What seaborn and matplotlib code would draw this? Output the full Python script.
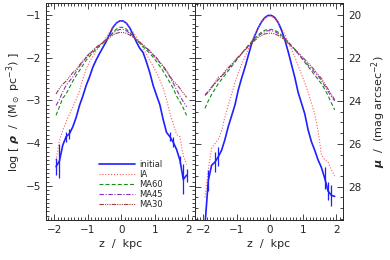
import numpy as np
import pandas as pd
import seaborn as sns
import matplotlib
matplotlib.use('Agg')
import matplotlib.pyplot as plt
from matplotlib.ticker import MultipleLocator

# z grid of the profiles (kpc)
z = [-1.95, -1.85, -1.75, -1.65, -1.55, -1.45, -1.35, -1.25, -1.15, -1.05,
     -0.95, -0.85, -0.75, -0.65, -0.55, -0.45, -0.35, -0.25, -0.15, -0.05,
     0.05, 0.15, 0.25, 0.35, 0.45, 0.55, 0.65, 0.75, 0.85, 0.95,
     1.05, 1.15, 1.25, 1.35, 1.45, 1.55, 1.65, 1.75, 1.85, 1.95]

labels = ['initial', 'IA', 'MA60', 'MA45', 'MA30']

# left panel: log rho
rho_initial = [-4.55, -4.42, -4.05, -3.85, -3.78, -3.62, -3.40, -3.12, -2.90, -2.65,
               -2.45, -2.22, -2.05, -1.90, -1.76, -1.62, -1.45, -1.29, -1.19, -1.14,
               -1.14, -1.19, -1.30, -1.46, -1.63, -1.78, -1.88, -2.10, -2.35, -2.65,
               -2.88, -3.10, -3.45, -3.75, -3.85, -3.98, -4.15, -4.40, -4.85, -4.75]
rho_ia = [-4.40, -3.95, -3.70, -3.50, -3.33, -3.15, -2.98, -2.78, -2.50, -2.26,
          -2.10, -1.97, -1.84, -1.73, -1.63, -1.52, -1.40, -1.28, -1.19, -1.15,
          -1.15, -1.19, -1.28, -1.40, -1.52, -1.64, -1.78, -1.92, -2.07, -2.20,
          -2.35, -2.52, -2.72, -2.98, -3.30, -3.55, -3.80, -3.85, -4.30, -4.50]
rho_ma60 = [-3.35, -3.15, -2.95, -2.85, -2.70, -2.55, -2.42, -2.30, -2.18, -2.06,
            -1.97, -1.88, -1.80, -1.73, -1.66, -1.58, -1.50, -1.41, -1.33, -1.29,
            -1.29, -1.33, -1.41, -1.50, -1.58, -1.66, -1.74, -1.82, -1.90, -1.99,
            -2.09, -2.20, -2.32, -2.45, -2.58, -2.72, -2.90, -3.03, -3.18, -3.35]
rho_ma45 = [-3.12, -2.98, -2.80, -2.65, -2.55, -2.45, -2.33, -2.20, -2.10, -2.00,
            -1.92, -1.84, -1.76, -1.70, -1.64, -1.57, -1.50, -1.43, -1.37, -1.34,
            -1.34, -1.37, -1.43, -1.50, -1.57, -1.64, -1.71, -1.78, -1.86, -1.94,
            -2.03, -2.12, -2.22, -2.33, -2.45, -2.60, -2.75, -2.90, -3.03, -3.15]
rho_ma30 = [-2.85, -2.72, -2.62, -2.55, -2.45, -2.35, -2.28, -2.17, -2.08, -1.98,
            -1.90, -1.83, -1.76, -1.70, -1.65, -1.59, -1.53, -1.47, -1.43, -1.41,
            -1.41, -1.43, -1.47, -1.52, -1.58, -1.64, -1.70, -1.77, -1.84, -1.92,
            -2.00, -2.10, -2.20, -2.30, -2.43, -2.55, -2.62, -2.72, -2.83, -2.93]
rho_initial_err = [0.20, 0.40, 0.00, 0.12, 0.12, 0.00, 0.00, 0.00, 0.00, 0.00,
                   0.00, 0.00, 0.00, 0.00, 0.00, 0.00, 0.00, 0.00, 0.00, 0.00,
                   0.00, 0.00, 0.00, 0.00, 0.00, 0.00, 0.00, 0.00, 0.00, 0.00,
                   0.00, 0.00, 0.00, 0.00, 0.10, 0.12, 0.00, 0.10, 0.35, 0.15]

# right panel: surface brightness mu
mu_initial = [29.80, 27.70, 27.00, 26.85, 26.60, 26.30, 25.80, 25.20, 24.70, 24.20,
              23.50, 22.95, 22.45, 21.90, 21.35, 20.95, 20.60, 20.32, 20.12, 20.02,
              20.02, 20.12, 20.35, 20.70, 21.15, 21.70, 22.30, 22.90, 23.60, 24.10,
              24.60, 25.35, 25.90, 26.30, 26.75, 27.10, 27.60, 28.20, 28.40, 28.45]
mu_ia = [28.50, 27.20, 26.20, 26.00, 25.80, 25.40, 24.75, 24.20, 23.70, 23.15,
         22.70, 22.30, 21.95, 21.60, 21.25, 20.90, 20.60, 20.35, 20.15, 20.05,
         20.05, 20.15, 20.35, 20.60, 20.90, 21.25, 21.60, 21.95, 22.35, 22.75,
         23.15, 23.60, 24.10, 24.60, 25.40, 26.50, 26.75, 26.85, 27.20, 27.50]
mu_ma60 = [24.35, 24.00, 23.70, 23.45, 23.20, 23.00, 22.80, 22.60, 22.40, 22.20,
           22.00, 21.80, 21.60, 21.42, 21.25, 21.08, 20.93, 20.80, 20.71, 20.67,
           20.67, 20.71, 20.80, 20.93, 21.08, 21.25, 21.42, 21.60, 21.80, 22.00,
           22.20, 22.40, 22.60, 22.80, 23.00, 23.20, 23.45, 23.75, 24.10, 24.42]
mu_ma45 = [23.72, 23.55, 23.35, 23.20, 23.02, 22.85, 22.68, 22.50, 22.33, 22.15,
           21.97, 21.80, 21.62, 21.45, 21.28, 21.12, 20.98, 20.86, 20.77, 20.73,
           20.73, 20.77, 20.86, 20.98, 21.12, 21.28, 21.45, 21.62, 21.80, 21.97,
           22.15, 22.33, 22.50, 22.68, 22.85, 23.05, 23.30, 23.55, 23.80, 24.00]
mu_ma30 = [23.75, 23.60, 23.40, 23.15, 22.90, 22.85, 22.62, 22.45, 22.30, 22.12,
           21.95, 21.80, 21.63, 21.48, 21.33, 21.18, 21.05, 20.95, 20.88, 20.85,
           20.85, 20.88, 20.95, 21.05, 21.18, 21.32, 21.46, 21.60, 21.75, 21.90,
           22.07, 22.23, 22.40, 22.58, 22.78, 22.95, 23.20, 23.45, 23.70, 23.95]
mu_initial_err = [0.00, 0.50, 0.00, 0.45, 0.45, 0.00, 0.00, 0.00, 0.00, 0.00,
                  0.00, 0.00, 0.00, 0.00, 0.00, 0.00, 0.00, 0.00, 0.00, 0.00,
                  0.00, 0.00, 0.00, 0.00, 0.00, 0.00, 0.00, 0.00, 0.00, 0.00,
                  0.00, 0.00, 0.00, 0.00, 0.00, 0.00, 0.50, 0.40, 0.50, 0.00]

colors = ['#1f1fff', '#ff5a5a', '#119011', '#8d2fc8', '#9a4040']
dashes = [(None, None), (1, 1.6), (3.5, 2), (4, 1.5, 1, 1.5), (4, 1, 1, 1, 1, 1, 1, 1)]
widths = [1.2, 0.8, 0.8, 0.8, 0.8]

sns.set_style('ticks')
plt.rcParams['font.family'] = ['DejaVu Sans']
plt.rcParams['mathtext.fontset'] = 'dejavusans'

fig = plt.figure(figsize=(3.9, 2.6), dpi=100)
ax1 = fig.add_axes([46 / 390, 1 - 220 / 260, 149 / 390, 217 / 260])
ax2 = fig.add_axes([195 / 390, 1 - 220 / 260, 148 / 390, 217 / 260])

left_series = [rho_initial, rho_ia, rho_ma60, rho_ma45, rho_ma30]
right_series = [mu_initial, mu_ia, mu_ma60, mu_ma45, mu_ma30]

for ax, series, err in [(ax1, left_series, rho_initial_err), (ax2, right_series, mu_initial_err)]:
    for i, vals in enumerate(series):
        df = pd.DataFrame({'z': z, 'v': vals})
        sns.lineplot(data=df, x='z', y='v', ax=ax, color=colors[i], lw=widths[i],
                     label=labels[i], sort=False, errorbar=None)
        if i > 0:
            ax.lines[-1].set_dashes(dashes[i])
    e = np.array(err)
    m = e > 0
    ax.errorbar(np.array(z)[m], np.array(series[0])[m], yerr=e[m], fmt='none',
                ecolor=colors[0], elinewidth=0.9, capsize=0)

for ax in (ax1, ax2):
    ax.set_xlim(-2.25, 2.2)
    ax.xaxis.set_major_locator(MultipleLocator(1))
    ax.xaxis.set_minor_locator(MultipleLocator(0.1))
    ax.set_xlabel('z  /  kpc', fontsize=8, labelpad=3)
    ax.tick_params(which='both', direction='in', top=True, bottom=True, left=True, right=True,
                   labelsize=7.5, width=0.6, pad=3.5)
    ax.tick_params(which='major', length=4)
    ax.tick_params(which='minor', length=2)
    for s in ax.spines.values():
        s.set_linewidth(0.7)

ax1.set_ylim(-5.8, -0.72)
ax1.yaxis.set_major_locator(MultipleLocator(1))
ax1.yaxis.set_minor_locator(MultipleLocator(0.1))
ax1.set_ylabel(r'log [ $\boldsymbol{\rho}$  /  (M$_\odot$ pc$^{-3}$) ]', fontsize=8, labelpad=2)

ax2.set_ylim(29.55, 19.44)
ax2.yaxis.set_major_locator(MultipleLocator(2))
ax2.yaxis.set_minor_locator(MultipleLocator(0.5))
ax2.yaxis.set_label_position('right')
ax2.tick_params(labelleft=False, labelright=True)
ax2.set_ylabel(r'$\boldsymbol{\mu}$  /  (mag arcsec$^{-2}$)', fontsize=8, labelpad=6)

ax2.get_legend().remove()
ax1.legend(loc='upper left', bbox_to_anchor=(0.33, 0.29), frameon=False, fontsize=6,
           handlelength=4.4, labelspacing=0.12, handletextpad=0.5, borderaxespad=0)

fig.savefig('out.png', dpi=100)
